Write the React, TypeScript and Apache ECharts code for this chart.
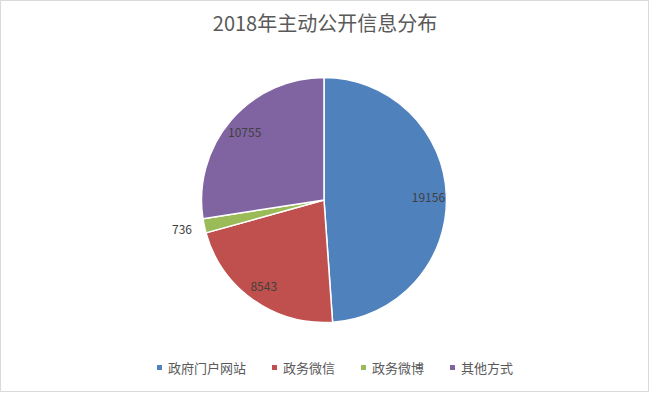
import React, { useEffect, useRef } from "react";
import * as echarts from "echarts";

const titleText = "2018年主动公开信息分布";
const categories = ["政府门户网站", "政务微信", "政务微博", "其他方式"];
const values = [19156, 8543, 736, 10755];
const colors = ["#4F81BD", "#C0504D", "#9BBB59", "#8064A2"];
const outsideLabels = [false, false, true, false];

export default function App() {
  const ref = useRef<HTMLDivElement>(null);
  useEffect(() => {
    if (!ref.current) return;
    const chart = echarts.init(ref.current, undefined, { renderer: "svg" });
    const font = "'Noto Sans CJK SC', 'Noto Sans', sans-serif";
    const baseData = categories.map((name, i) => ({
      name,
      value: values[i],
      itemStyle: { color: colors[i] },
    }));
    const labelData = categories.map((name, i) => ({
      name,
      value: values[i],
      label: outsideLabels[i]
        ? { position: "outside" as const, distanceToLabelLine: 0 }
        : { position: "inside" as const },
      labelLine: { show: false, length: 12, length2: 0 },
    }));
    chart.setOption({
      animation: false,
      backgroundColor: "#ffffff",
      title: {
        text: titleText,
        left: "center",
        top: 7,
        textStyle: {
          fontFamily: font,
          fontSize: 20,
          fontWeight: "normal",
          color: "#595959",
        },
      },
      legend: {
        data: categories,
        left: 150,
        top: 356,
        icon: "rect",
        itemWidth: 7,
        itemHeight: 7,
        itemGap: 24,
        selectedMode: false,
        textStyle: { fontFamily: font, fontSize: 13, color: "#595959" },
      },
      graphic: [
        {
          type: "rect",
          shape: { x: 0.5, y: 0.5, width: 648, height: 391 },
          style: { fill: "none", stroke: "#d9d9d9", lineWidth: 1 },
          silent: true,
        },
      ],
      series: [
        {
          type: "pie",
          center: [324, 200],
          radius: [0, 122.5],
          startAngle: 90,
          clockwise: true,
          avoidLabelOverlap: false,
          label: { show: false },
          labelLine: { show: false },
          itemStyle: { borderColor: "#ffffff", borderWidth: 1.5 },
          emphasis: { disabled: true },
          data: baseData,
        },
        {
          type: "pie",
          center: [324, 200],
          radius: [80, 123],
          startAngle: 90,
          clockwise: true,
          silent: true,
          avoidLabelOverlap: false,
          itemStyle: { color: "transparent", borderWidth: 0 },
          label: {
            show: true,
            formatter: "{c}",
            fontFamily: font,
            fontSize: 12,
            color: "#404040",
          },
          emphasis: { disabled: true },
          data: labelData,
        },
      ],
    });
    return () => chart.dispose();
  }, []);
  return (
    <div
      ref={ref}
      style={{ position: "absolute", left: 0, top: 0, width: 650, height: 393 }}
    />
  );
}
